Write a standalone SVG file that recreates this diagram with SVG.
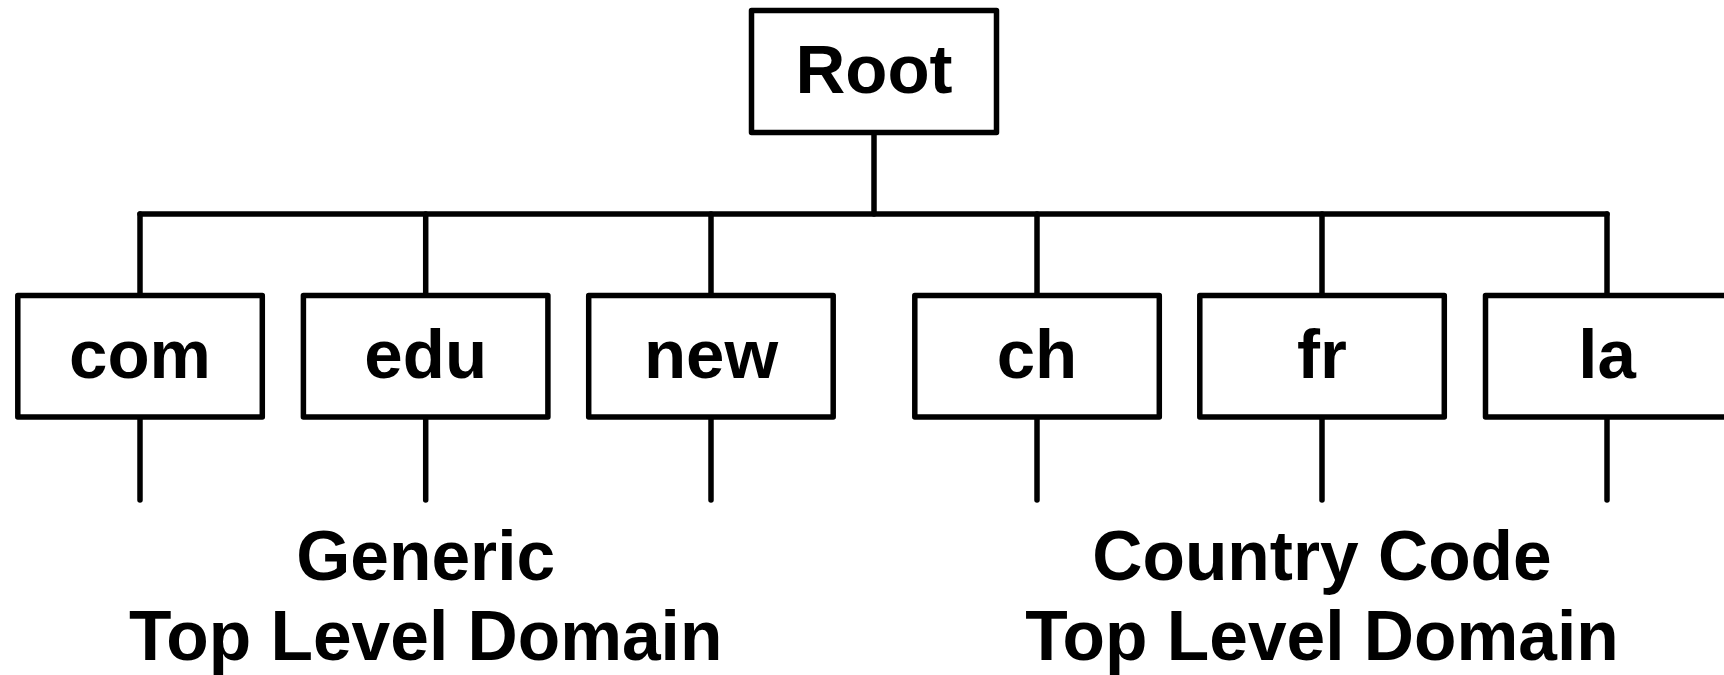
<svg xmlns="http://www.w3.org/2000/svg" width="1724" height="675" viewBox="0 0 1724 675">
<style>
.box{fill:#fff;stroke:#000;stroke-width:5.5;stroke-linejoin:round}
.lbl{font-family:"Liberation Sans",Arial,sans-serif;font-weight:bold;font-size:69px;fill:#000;text-anchor:middle}
.cap{font-family:"Liberation Sans",Arial,sans-serif;font-weight:bold;font-size:69.5px;fill:#000;text-anchor:middle}
.ln{fill:none;stroke:#000;stroke-width:5.5;stroke-linecap:round;stroke-linejoin:round}
</style>
<rect width="1724" height="675" fill="#fff"/>
<g id="connectors">
<line class="ln" x1="874" y1="132.5" x2="874" y2="214"/>
<line class="ln" x1="140" y1="214" x2="1607" y2="214"/>
<line class="ln" x1="140" y1="214" x2="140" y2="295.5"/>
<line class="ln" x1="425.7" y1="214" x2="425.7" y2="295.5"/>
<line class="ln" x1="711" y1="214" x2="711" y2="295.5"/>
<line class="ln" x1="1037" y1="214" x2="1037" y2="295.5"/>
<line class="ln" x1="1322" y1="214" x2="1322" y2="295.5"/>
<line class="ln" x1="1607" y1="214" x2="1607" y2="295.5"/>
<line class="ln" x1="140" y1="417" x2="140" y2="500"/>
<line class="ln" x1="425.7" y1="417" x2="425.7" y2="500"/>
<line class="ln" x1="711" y1="417" x2="711" y2="500"/>
<line class="ln" x1="1037" y1="417" x2="1037" y2="500"/>
<line class="ln" x1="1322" y1="417" x2="1322" y2="500"/>
<line class="ln" x1="1607" y1="417" x2="1607" y2="500"/>
</g>
<g id="root"><rect class="box" x="751.5" y="10.5" width="245" height="122"/><text class="lbl" x="874" y="93">Root</text></g>
<g id="com"><rect class="box" x="17.8" y="295.5" width="244.5" height="121.5"/><text class="lbl" x="140" y="378">com</text></g>
<g id="edu"><rect class="box" x="303.4" y="295.5" width="244.5" height="121.5"/><text class="lbl" x="425.7" y="378">edu</text></g>
<g id="new"><rect class="box" x="588.7" y="295.5" width="244.5" height="121.5"/><text class="lbl" x="711" y="378">new</text></g>
<g id="ch"><rect class="box" x="914.8" y="295.5" width="244.5" height="121.5"/><text class="lbl" x="1037" y="378">ch</text></g>
<g id="fr"><rect class="box" x="1199.8" y="295.5" width="244.5" height="121.5"/><text class="lbl" x="1322" y="378">fr</text></g>
<g id="la"><rect class="box" x="1485.5" y="295.5" width="243" height="121.5"/><text class="lbl" x="1607" y="378">la</text></g>
<g id="generic-label"><text class="cap" x="425.7" y="580">Generic</text><text class="cap" x="425.7" y="660">Top Level Domain</text></g>
<g id="country-label"><text class="cap" x="1322" y="580">Country Code</text><text class="cap" x="1322" y="660">Top Level Domain</text></g>
</svg>
